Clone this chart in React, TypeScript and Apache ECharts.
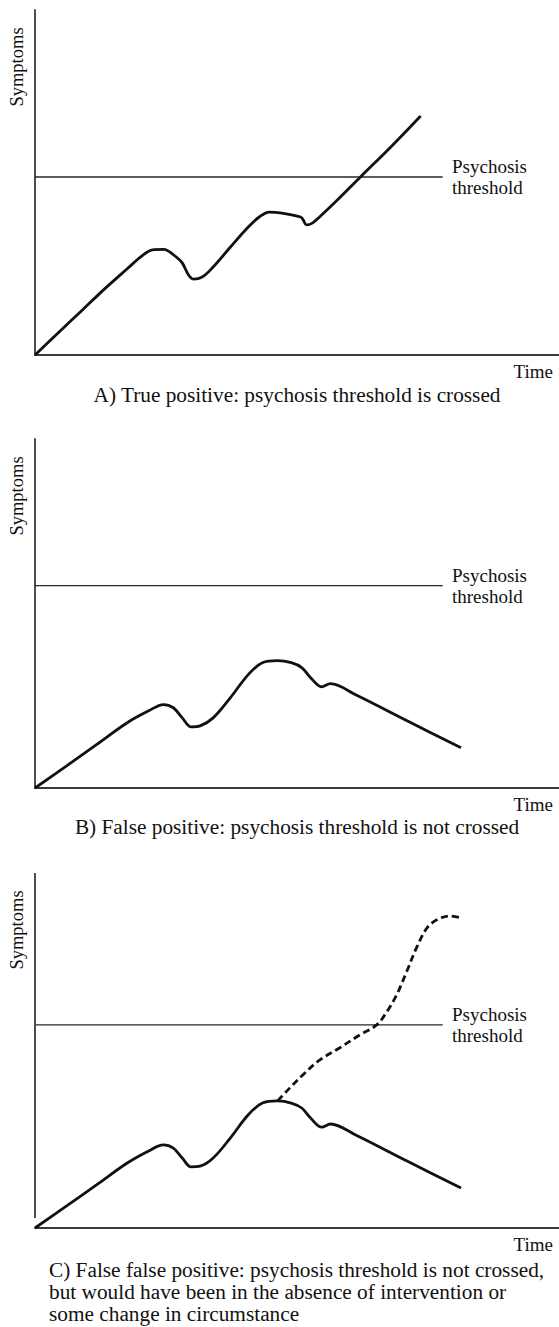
import React, { useEffect, useRef } from "react";
import * as echarts from "echarts";

// Panel A: true positive (time, symptoms)
const timeA = [0, 4.5, 9.0, 13.6, 17.6, 20.3, 22.4, 24.5, 27.2, 28.1, 29.3, 30.2, 31.9, 34.0, 37.3, 40.7, 42.8, 44.7, 46.8, 50.7, 51.2, 51.8, 53.0, 54.3, 57.7, 62.1, 67.9, 73.6];
const symptomsA = [0, 6.5, 13.0, 19.6, 25.0, 28.6, 30.5, 30.6, 28.1, 26.7, 23.2, 22.0, 22.6, 25.5, 31.3, 37.1, 40.0, 41.4, 41.2, 40.0, 39.1, 37.7, 38.3, 40.0, 44.9, 51.6, 60.3, 69.3];

// Panel B: false positive
const timeB = [0, 5.9, 11.8, 17.6, 21.7, 24.5, 26.4, 28.1, 29.8, 31.5, 34.0, 37.3, 40.7, 43.4, 46.3, 48.9, 50.9, 52.6, 54.7, 56.4, 61.2, 71.2, 81.3];
const symptomsB = [0, 6.2, 12.5, 18.7, 22.1, 23.9, 23.0, 20.1, 17.5, 17.8, 20.1, 25.9, 32.5, 35.9, 36.5, 35.9, 34.5, 31.6, 29.0, 29.9, 26.7, 19.1, 11.5];

// Panel C: false false positive (observed) and counterfactual (dashed)
const timeC = [0, 5.9, 11.8, 17.6, 21.7, 24.5, 26.4, 28.1, 29.8, 31.5, 34.0, 37.3, 40.7, 43.4, 46.3, 48.9, 50.9, 52.6, 54.7, 56.4, 61.2, 71.2, 81.3];
const symptomsC = [0, 6.1, 12.2, 18.3, 21.7, 23.4, 22.5, 19.7, 17.2, 17.4, 19.7, 25.4, 31.9, 35.2, 35.8, 35.2, 33.8, 31.0, 28.4, 29.3, 26.2, 18.7, 11.3];
const timeCf = [46.3, 48.6, 51.1, 54.3, 58.1, 62.0, 65.2, 67.1, 69.0, 70.9, 72.8, 74.8, 76.7, 79.2, 81.5];
const symptomsCf = [35.8, 39.4, 43.1, 47.3, 50.7, 54.4, 57.2, 60.8, 65.6, 72.1, 78.9, 84.5, 86.8, 87.9, 87.3];

// Psychosis thresholds per panel
const thresholds = [51.6, 58.0, 57.2];
const thresholdEnd = 77.8;
const cAxisStart = 2.8;

const captions = [
  "A) True positive: psychosis threshold is crossed",
  "B) False positive: psychosis threshold is not crossed",
  "C) False false positive: psychosis threshold is not crossed,\nbut would have been in the absence of intervention or\nsome change in circumstance",
];

const FONT = "'Liberation Serif', 'Times New Roman', serif";

function zip(xs: number[], ys: number[]) {
  return xs.map((x, i) => [x, ys[i]]);
}

export default function App() {
  const ref = useRef<HTMLDivElement>(null);
  useEffect(() => {
    if (!ref.current) return;
    const chart = echarts.init(ref.current, null, { renderer: "svg" });
    const grids = [
      { left: 35, top: 10, width: 524, height: 345 },
      { left: 35, top: 439, width: 524, height: 349 },
      { left: 35, top: 873, width: 524, height: 355 },
    ];
    const axisLine = { lineStyle: { color: "#3a3a3a", width: 1.8 } };
    const xAxis = grids.map((_, i) => ({
      type: "value",
      gridIndex: i,
      min: 0,
      max: 100,
      axisLine: { show: true, onZero: false, ...axisLine },
      axisTick: { show: false },
      axisLabel: { show: false },
      splitLine: { show: false },
    }));
    const yAxis = grids.map((_, i) => ({
      type: "value",
      gridIndex: i,
      min: 0,
      max: 100,
      axisLine: { show: i !== 2, onZero: false, ...axisLine },
      axisTick: { show: false },
      axisLabel: { show: false },
      splitLine: { show: false },
    }));
    const curve = (data: number[][], idx: number, extra: any = {}) => ({
      type: "line",
      xAxisIndex: idx,
      yAxisIndex: idx,
      data,
      smooth: 0.35,
      symbol: "none",
      clip: false,
      lineStyle: { color: "#111", width: 2.8 },
      ...extra,
    });
    const thresholdSeries = thresholds.map((t, i) => ({
      type: "line",
      xAxisIndex: i,
      yAxisIndex: i,
      data: [
        [0, t],
        [thresholdEnd, t],
      ],
      symbol: "none",
      lineStyle: { color: "#262626", width: 1.3 },
    }));
    const series: any[] = [
      ...thresholdSeries,
      curve(zip(timeA, symptomsA), 0),
      curve(zip(timeB, symptomsB), 1),
      curve(zip(timeC, symptomsC), 2, {
        markLine: {
          silent: true,
          symbol: "none",
          label: { show: false },
          lineStyle: { color: "#3a3a3a", width: 1.8, type: "solid" },
          data: [[{ coord: [0, cAxisStart] }, { coord: [0, 100] }]],
        },
      }),
      curve(zip(timeCf, symptomsCf), 2, {
        lineStyle: { color: "#111", width: 2.8, type: [7, 4] },
      }),
    ];
    const txt = (text: string, x: number, y: number, style: any = {}, extra: any = {}) => ({
      type: "text",
      x,
      y,
      silent: true,
      ...extra,
      style: { text, fontFamily: FONT, fontSize: 19, fill: "#111", ...style },
    });
    const axisTops = [10, 439, 873];
    const axisBottoms = [355, 788, 1228];
    const thrY = [177, 586, 1025];
    const graphic: any[] = [];
    for (let i = 0; i < 3; i++) {
      graphic.push(
        txt("Symptoms", 17, axisTops[i] + 57, { align: "center", verticalAlign: "middle", fontSize: 18.5 }, { rotation: Math.PI / 2 })
      );
      graphic.push(
        txt("Psychosis\nthreshold", 452, thrY[i], { align: "left", verticalAlign: "middle", lineHeight: 21 })
      );
      graphic.push(txt("Time", 553, axisBottoms[i] + 16, { align: "right", verticalAlign: "middle" }));
    }
    graphic.push(txt(captions[0], 297, 395, { align: "center", verticalAlign: "middle", fontSize: 21.3 }));
    graphic.push(txt(captions[1], 297, 827, { align: "center", verticalAlign: "middle", fontSize: 21.3 }));
    graphic.push(txt(captions[2], 49, 1259, { align: "left", verticalAlign: "top", fontSize: 21.3, lineHeight: 22 }));

    chart.setOption({
      animation: false,
      backgroundColor: "#fff",
      grid: grids,
      xAxis,
      yAxis,
      series,
      graphic,
    });
    return () => chart.dispose();
  }, []);
  return (
    <div
      ref={ref}
      style={{ position: "absolute", left: 0, top: 0, width: 559, height: 1327 }}
    />
  );
}
